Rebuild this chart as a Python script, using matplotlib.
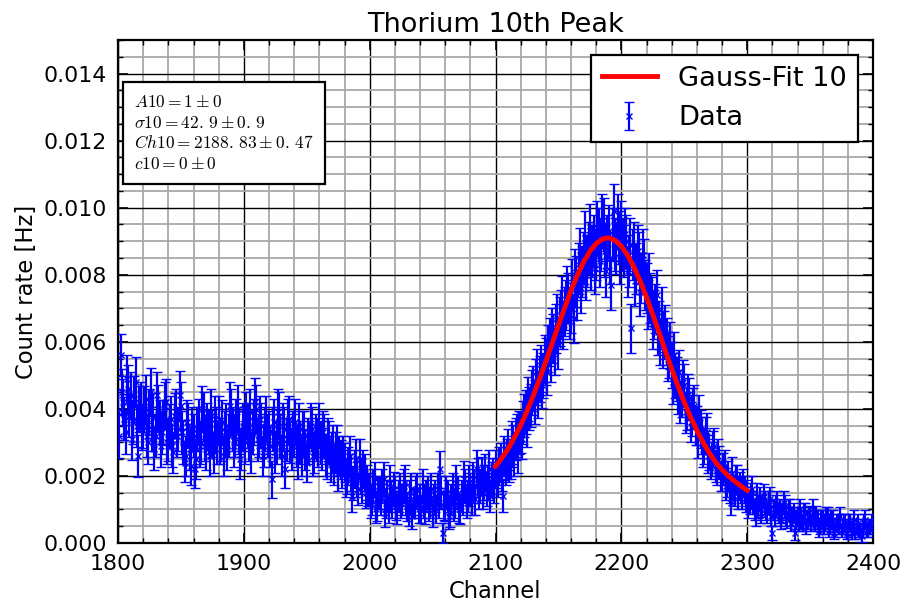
import numpy as np
import matplotlib
matplotlib.use("Agg")
import matplotlib.pyplot as plt
from matplotlib.ticker import MultipleLocator, FormatStrFormatter

plt.rcParams['mathtext.fontset'] = 'cm'
plt.rcParams['font.family'] = ['DejaVu Sans']

# ---------------- data ----------------
ch_start = 1800
# count rate in mHz, one value per channel (1800 ... 2399), 20 channels per row
rate_mHz = [
    3.9, 3.2, 5.6, 4.5, 4.2, 3.7, 3.3, 4.9, 4.6, 3.8, 4.4, 3.1, 3.6, 4.3, 4.8, 3.5, 2.6, 4.0, 4.1, 3.4,
    3.5, 4.0, 4.3, 3.2, 3.0, 3.9, 4.5, 3.4, 3.8, 2.8, 3.2, 4.4, 4.0, 3.6, 2.9, 3.3, 3.6, 4.1, 4.2, 3.0,
    3.1, 3.5, 3.7, 2.9, 2.7, 3.8, 3.9, 3.2, 3.4, 4.4, 4.1, 3.3, 3.0, 2.4, 2.6, 3.6, 3.5, 2.8, 2.3, 3.4,
    3.2, 2.2, 2.5, 3.4, 3.6, 2.9, 3.0, 4.0, 3.8, 3.1, 2.8, 3.5, 3.3, 2.6, 3.9, 3.2, 2.7, 3.7, 3.4, 3.0,
    3.7, 3.0, 3.1, 3.6, 2.6, 3.3, 3.5, 2.8, 3.2, 4.1, 3.9, 3.4, 2.9, 3.2, 3.6, 4.0, 3.3, 2.5, 2.8, 3.5,
    3.4, 3.0, 3.8, 3.5, 3.1, 3.9, 2.7, 3.3, 3.6, 4.2, 4.0, 3.1, 3.2, 3.7, 3.5, 2.6, 2.9, 3.4, 3.7, 3.2,
    3.3, 2.9, 1.9, 3.4, 3.6, 2.7, 3.0, 3.9, 3.8, 3.2, 2.6, 3.5, 3.4, 2.2, 3.1, 3.6, 3.7, 3.0, 2.8, 3.3,
    3.2, 3.6, 2.9, 2.5, 3.5, 3.0, 2.6, 3.3, 3.3, 2.8, 2.4, 3.1, 3.0, 3.5, 3.4, 2.6, 2.7, 3.2, 3.1, 2.9,
    3.5, 3.0, 2.8, 3.3, 3.2, 2.6, 2.5, 3.1, 3.0, 2.4, 2.7, 2.9, 2.3, 2.7, 2.9, 2.1, 2.6, 2.5, 2.2, 2.6,
    2.4, 1.9, 2.0, 2.3, 2.6, 2.1, 1.4, 1.8, 2.2, 2.5, 1.9, 1.6, 2.5, 2.0, 1.7, 2.2, 2.1, 1.5, 1.8, 1.6,
    1.6, 1.2, 1.3, 1.7, 1.9, 1.0, 1.1, 1.5, 1.5, 1.3, 1.7, 1.9, 0.9, 1.2, 1.4, 1.0, 1.8, 1.4, 1.2, 1.6,
    1.5, 1.1, 1.0, 1.4, 1.6, 1.2, 1.3, 1.7, 1.8, 1.3, 1.1, 0.9, 1.4, 1.6, 0.8, 1.2, 1.2, 1.5, 1.6, 1.0,
    1.3, 1.0, 1.7, 1.2, 1.0, 1.4, 1.5, 1.1, 1.2, 1.6, 0.9, 1.3, 1.4, 1.0, 1.6, 1.2, 2.2, 1.5, 0.3, 1.1,
    1.1, 1.5, 1.4, 0.8, 0.9, 1.3, 1.6, 1.1, 1.2, 1.8, 1.5, 1.0, 1.0, 1.4, 1.3, 1.9, 1.7, 1.2, 1.4, 1.8,
    1.6, 1.3, 1.9, 1.7, 1.3, 2.2, 2.0, 1.5, 1.7, 2.0, 1.5, 1.8, 2.1, 1.6, 1.8, 2.2, 1.4, 1.9, 2.0, 1.7,
    2.2, 2.0, 1.9, 2.3, 2.4, 2.1, 1.4, 2.6, 2.3, 2.5, 2.8, 2.4, 2.5, 3.0, 2.9, 2.6, 3.1, 3.2, 2.7, 3.3,
    3.3, 3.1, 3.6, 3.8, 3.9, 3.5, 4.3, 4.0, 4.1, 4.5, 4.6, 4.2, 4.8, 5.1, 4.4, 4.9, 5.2, 4.7, 5.0, 5.5,
    5.4, 5.1, 5.8, 6.0, 5.5, 6.3, 6.1, 5.7, 6.4, 6.7, 5.9, 6.6, 6.8, 7.2, 6.5, 6.9, 7.1, 7.5, 7.3, 6.8,
    7.0, 7.7, 6.7, 8.0, 7.8, 7.4, 8.2, 8.6, 7.6, 8.1, 8.5, 9.1, 8.0, 8.4, 8.8, 9.3, 8.3, 8.7, 9.0, 8.2,
    8.6, 9.4, 9.2, 8.4, 8.9, 9.6, 9.5, 8.7, 8.1, 9.0, 9.3, 8.5, 7.7, 9.2, 9.9, 8.9, 8.8, 9.6, 9.1, 8.5,
    9.4, 8.9, 8.7, 9.2, 9.0, 8.1, 8.4, 8.9, 6.4, 8.6, 8.8, 7.8, 8.2, 8.7, 8.5, 7.5, 7.9, 8.6, 8.3, 7.7,
    7.6, 7.1, 7.9, 7.3, 7.2, 6.5, 6.8, 7.0, 7.4, 6.3, 6.5, 6.0, 6.9, 5.9, 6.2, 6.4, 6.0, 5.5, 5.6, 5.9,
    5.3, 4.8, 5.6, 5.0, 4.9, 4.5, 5.1, 4.2, 4.4, 4.8, 4.7, 3.9, 4.0, 4.4, 4.3, 3.6, 3.8, 4.0, 4.1, 3.5,
    3.5, 3.1, 3.8, 3.4, 3.2, 2.8, 2.9, 3.2, 3.3, 2.6, 2.7, 2.4, 2.5, 2.8, 2.9, 2.3, 2.2, 2.6, 2.4, 2.0,
    2.0, 2.2, 2.3, 1.7, 1.8, 2.0, 1.6, 1.2, 2.1, 1.7, 1.5, 1.9, 1.9, 1.4, 1.7, 1.6, 1.4, 1.8, 1.6, 1.3,
    1.5, 1.1, 1.2, 1.4, 1.6, 1.2, 1.0, 0.8, 1.4, 1.1, 1.3, 0.9, 1.1, 1.4, 1.2, 1.0, 0.9, 1.2, 1.3, 0.8,
    0.3, 1.0, 0.8, 1.1, 1.2, 0.9, 1.0, 0.7, 0.9, 1.2, 1.1, 0.8, 0.7, 1.0, 1.0, 0.6, 0.8, 0.9, 0.3, 0.7,
    0.8, 0.6, 1.0, 0.7, 0.6, 0.9, 0.9, 0.5, 0.7, 0.8, 0.8, 0.6, 1.0, 0.7, 0.6, 0.8, 0.7, 0.4, 0.5, 0.7,
    0.7, 0.5, 0.6, 0.8, 0.8, 0.4, 0.5, 0.7, 0.7, 0.3, 0.4, 0.6, 0.6, 0.5, 0.8, 0.4, 0.5, 0.6, 0.6, 0.3,
    0.4, 0.6, 0.6, 0.3, 0.5, 0.7, 0.3, 0.5, 0.6, 0.4, 0.4, 0.2, 0.5, 0.6, 0.7, 0.4, 0.4, 0.5, 0.5, 0.6,
]
# uncertainty in units of 0.01 mHz, one per channel
err_cmHz = [
    70, 66, 62, 68, 68, 64, 66, 72, 72, 65, 70, 62, 65, 69, 74, 64, 62, 68, 69, 64,
    66, 68, 71, 63, 63, 68, 72, 65, 68, 62, 64, 70, 70, 66, 62, 64, 67, 69, 70, 63,
    64, 66, 68, 62, 61, 67, 69, 64, 66, 72, 71, 64, 63, 58, 60, 66, 67, 61, 58, 65,
    65, 57, 60, 66, 68, 62, 63, 69, 69, 64, 62, 67, 66, 60, 70, 65, 61, 68, 66, 63,
    68, 63, 64, 67, 60, 65, 67, 61, 65, 71, 70, 66, 62, 64, 68, 70, 65, 58, 62, 67,
    66, 63, 69, 67, 64, 69, 61, 65, 68, 72, 71, 64, 65, 68, 67, 60, 62, 66, 68, 64,
    65, 62, 55, 66, 68, 61, 63, 69, 69, 64, 60, 67, 66, 56, 64, 68, 68, 62, 62, 65,
    65, 68, 62, 58, 67, 63, 60, 65, 65, 61, 58, 64, 63, 67, 66, 60, 61, 65, 64, 62,
    67, 63, 62, 65, 65, 60, 59, 64, 63, 57, 61, 62, 57, 60, 62, 54, 60, 58, 56, 59,
    58, 52, 54, 57, 60, 55, 48, 51, 56, 59, 53, 48, 59, 54, 51, 56, 55, 47, 52, 49,
    50, 44, 46, 52, 53, 41, 43, 48, 49, 46, 51, 53, 41, 44, 48, 41, 52, 48, 45, 51,
    49, 42, 42, 48, 50, 44, 46, 52, 52, 46, 43, 39, 48, 50, 39, 44, 45, 49, 50, 41,
    47, 40, 51, 44, 42, 48, 49, 43, 45, 50, 41, 46, 48, 41, 50, 44, 55, 49, 30, 42,
    44, 49, 48, 38, 41, 46, 50, 43, 45, 53, 49, 41, 42, 48, 47, 54, 51, 45, 48, 53,
    50, 46, 53, 51, 47, 56, 54, 49, 51, 55, 49, 53, 55, 50, 52, 56, 48, 53, 54, 51,
    56, 54, 53, 57, 58, 55, 48, 60, 57, 59, 61, 58, 59, 63, 62, 60, 63, 64, 60, 65,
    62, 60, 64, 65, 65, 63, 66, 64, 65, 67, 67, 65, 68, 70, 66, 69, 69, 67, 68, 71,
    70, 68, 71, 72, 70, 72, 72, 70, 72, 74, 71, 73, 73, 75, 72, 74, 74, 76, 74, 72,
    74, 77, 73, 76, 75, 74, 76, 78, 74, 76, 77, 80, 75, 77, 78, 80, 76, 78, 78, 76,
    77, 80, 79, 77, 78, 81, 80, 77, 76, 79, 79, 77, 75, 80, 81, 78, 78, 81, 79, 77,
    80, 78, 78, 80, 79, 76, 77, 78, 72, 77, 78, 74, 76, 78, 77, 73, 75, 77, 76, 74,
    75, 73, 76, 74, 74, 71, 73, 73, 74, 70, 72, 70, 73, 69, 71, 71, 70, 68, 69, 70,
    68, 66, 69, 67, 66, 65, 67, 62, 64, 66, 65, 61, 62, 63, 63, 59, 60, 61, 62, 58,
    58, 56, 60, 58, 56, 54, 54, 56, 57, 51, 52, 50, 50, 53, 54, 48, 47, 50, 49, 45,
    45, 47, 48, 42, 43, 45, 40, 36, 46, 41, 39, 44, 44, 38, 41, 40, 38, 42, 40, 37,
    39, 34, 35, 38, 40, 35, 32, 29, 38, 34, 36, 31, 33, 37, 35, 32, 30, 35, 36, 29,
    22, 32, 28, 33, 35, 30, 32, 27, 30, 34, 33, 29, 26, 32, 32, 25, 28, 30, 22, 27,
    28, 25, 32, 27, 25, 30, 30, 23, 27, 29, 28, 25, 32, 27, 25, 29, 27, 21, 23, 27,
    27, 22, 25, 28, 28, 21, 23, 27, 27, 19, 21, 25, 25, 23, 28, 21, 23, 25, 25, 18,
    21, 25, 25, 18, 23, 27, 18, 22, 25, 21, 21, 16, 23, 25, 27, 21, 21, 23, 23, 25,
]

# Gauss fit curve, read every 5 channels from 2100 to 2300 (mHz)
fit_start, fit_step = 2100, 5
fit_mHz = [
    2.29, 2.53, 2.81, 3.14, 3.51, 3.93, 4.39, 4.89, 5.41, 5.95,
    6.49, 7.02, 7.53, 7.98, 8.38, 8.70, 8.93, 9.07, 9.10, 9.03,
    8.85, 8.58, 8.23, 7.81, 7.33, 6.81, 6.28, 5.73, 5.20, 4.68,
    4.20, 3.76, 3.36, 3.00, 2.68, 2.41, 2.19, 2.00, 1.84, 1.70,
    1.57,
]

fit_text = [
    r"$A10 = 1 \pm 0$",
    r"$\sigma10 = 42.\,9 \pm 0.\,9$",
    r"$Ch10 = 2188.\,83 \pm 0.\,47$",
    r"$c10 = 0 \pm 0$",
]

channels = ch_start + np.arange(len(rate_mHz))
rate = np.array(rate_mHz) * 1e-3
err = np.array(err_cmHz) * 1e-5
fit_ch = fit_start + fit_step * np.arange(len(fit_mHz))
fit = np.array(fit_mHz) * 1e-3

# ---------------- figure ----------------
fig = plt.figure(figsize=(9.03, 6.10), dpi=100)
ax = fig.add_axes([118/903, 1-543/610, 755/903, 503/610])

ax.errorbar(channels, rate, yerr=err, fmt='x', color='#0000ff', ecolor='#0000ff',
            markersize=4, mew=1.0, elinewidth=1.6, capsize=3.5, capthick=1.6,
            label='Data', zorder=3)
ax.plot(fit_ch, fit, color='#ff0000', lw=3.5, label='Gauss-Fit 10', zorder=4)

ax.set_xlim(1800, 2400)
ax.set_ylim(0, 0.015)
ax.xaxis.set_major_locator(MultipleLocator(100))
ax.xaxis.set_minor_locator(MultipleLocator(20))
ax.yaxis.set_major_locator(MultipleLocator(0.002))
ax.yaxis.set_minor_locator(MultipleLocator(0.0005))
ax.yaxis.set_major_formatter(FormatStrFormatter('%.3f'))

ax.grid(which='minor', color='#a8a8a8', lw=1.3, zorder=0)
ax.grid(which='major', color='black', lw=1.0, zorder=0)
ax.set_axisbelow(True)

ax.tick_params(which='both', direction='in', top=True, right=True, labelsize=15.8)
ax.tick_params(which='major', length=7, width=1.2, pad=8)
ax.tick_params(which='minor', length=3.5, width=1)
for s in ax.spines.values():
    s.set_linewidth(1.6)

ax.set_title('Thorium 10th Peak', fontsize=19.5, pad=6)
ax.set_xlabel('Channel', fontsize=16.3)
ax.set_ylabel('Count rate [Hz]', fontsize=16.3)

leg = ax.legend(loc='upper right', fontsize=19.6, fancybox=False, framealpha=1,
                edgecolor='black', borderaxespad=0.55, handlelength=2.0,
                numpoints=1)
leg.get_frame().set_linewidth(1.6)

ax.text(0.021, 0.895, "\n".join(fit_text), transform=ax.transAxes,
        fontsize=12.5, va='top', ha='left', linespacing=1.2, zorder=5,
        bbox=dict(boxstyle='square,pad=0.65', fc='white', ec='black', lw=1.6))

fig.savefig('out.png', dpi=100)
